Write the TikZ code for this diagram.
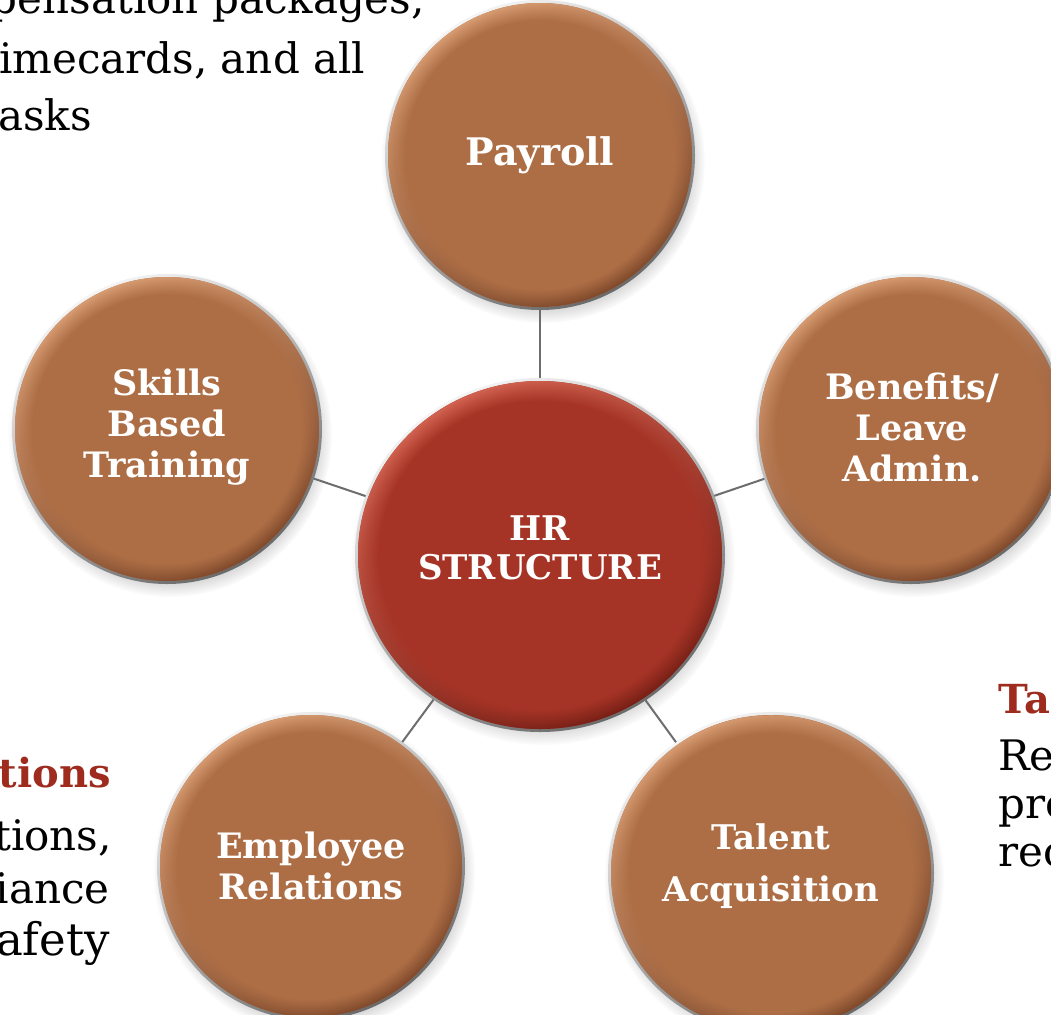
\documentclass[tikz,border=0pt]{standalone}
\usepackage{fontspec}
\setmainfont{DejaVu Serif}
\usetikzlibrary{shapes.geometric,fadings}

% palette
\definecolor{clay}{HTML}{AD6E45}
\definecolor{clayhi}{HTML}{D99D73}
\definecolor{claylo}{HTML}{7C4629}
\definecolor{rust}{HTML}{A63426}
\definecolor{rusthi}{HTML}{D46452}
\definecolor{rustlo}{HTML}{741D14}
\definecolor{ringhi}{HTML}{F4F4F4}
\definecolor{ringlo}{HTML}{6A6A6A}
\definecolor{linkgrey}{HTML}{6D6D6D}
\definecolor{headred}{HTML}{9E2B1E}

% soft drop shadow: opaque core, fading out at the rim
\pgfdeclareradialshading{shadowshade}{\pgfpointorigin}{%
  color(0bp)=(white); color(19bp)=(white); color(25bp)=(black); color(50bp)=(black)}
\pgfdeclarefading{shadowfade}{\pgfuseshading{shadowshade}}
% bevel band: only the outer rim of a disc is visible
\pgfdeclareradialshading{rimshade}{\pgfpointorigin}{%
  color(0bp)=(black); color(22bp)=(black); color(25bp)=(white); color(50bp)=(white)}
\pgfdeclarefading{rimfade}{\pgfuseshading{rimshade}}

% shadow, silver ring, fill and bevel for the disc of a named node
\newcommand{\hrdisc}[4]{%
  \fill[black, opacity=0.4, path fading=shadowfade]
    ([shift={(3,6)}]#1.center) ellipse ({#2pt+10pt} and {#3pt+10pt});
  \shade[top color=ringhi, bottom color=ringlo, shading angle=30]
    (#1.center) ellipse ({#2pt+3pt} and {#3pt+3pt});
  \fill[#4] (#1.center) ellipse (#2pt and #3pt);
  \shade[path fading=rimfade, top color=#4hi, middle color=#4, bottom color=#4lo, shading angle=30]
    (#1.center) ellipse (#2pt and #3pt);
}

\tikzset{
  disc/.style={ellipse, draw=none, inner sep=0pt, outer sep=3pt},
  link/.style={draw=linkgrey, line width=2pt},
  disctext/.style={text=white, align=center, inner sep=0pt,
    font=\bfseries\fontsize{35}{41}\selectfont},
  bodytext/.style={text=black, inner sep=0pt, font=\fontsize{42}{50}\selectfont},
  headtext/.style={text=headred, inner sep=0pt, font=\bfseries\fontsize{40}{48}\selectfont},
}

\begin{document}
\begin{tikzpicture}[x=1pt, y=-1pt]
\useasboundingbox (0,0) rectangle (1051,1014);
\fill[white] (0,0) rectangle (1051,1014);

% disc outlines (named, used by the connectors)
\node[disc, minimum width=364pt, minimum height=348pt] (hr) at (540,555) {};
\node[disc, minimum width=304pt, minimum height=304pt] (payroll) at (540,155) {};
\node[disc, minimum width=304pt, minimum height=304pt] (skills) at (167,429) {};
\node[disc, minimum width=304pt, minimum height=304pt] (benefits) at (911,429) {};
\node[disc, minimum width=302pt, minimum height=302pt] (employee) at (311,866) {};
\node[disc, minimum width=320pt, minimum height=316pt] (talent) at (771,873) {};

% disc bodies
\hrdisc{payroll}{152}{152}{clay}
\hrdisc{skills}{152}{152}{clay}
\hrdisc{benefits}{152}{152}{clay}
\hrdisc{employee}{151}{151}{clay}
\hrdisc{talent}{160}{158}{clay}
\hrdisc{hr}{182}{174}{rust}

% spokes
\draw[link] (hr) -- (payroll);
\draw[link] (hr) -- (skills);
\draw[link] (hr) -- (benefits);
\draw[link] (hr) -- (employee);
\draw[link] (hr) -- (talent);

% disc labels
\node[disctext, font=\bfseries\fontsize{38}{44}\selectfont] (payroll-t) at (540,155) {Payroll};
\node[disctext] (skills-t) at (167,427) {Skills\\Based\\Training};
\node[disctext] (benefits-t) at (912,427) {Benefits/\\Leave\\Admin.};
\node[disctext, font=\bfseries\fontsize{34}{39}\selectfont] (hr-t) at (540,548) {HR\\STRUCTURE};
\node[disctext] (employee-t) at (311,866) {Employee\\Relations};
\node[disctext, font=\bfseries\fontsize{34}{39}\selectfont] (talent-t) at (771,866) {Talent\\[13pt]Acquisition};

% side notes running off the page edges
\node[bodytext, anchor=base east] (pay-n1) at (425,14) {pensation packages,};
\node[bodytext, anchor=base west] (pay-n2) at (-18,74) {timecards, and all};
\node[bodytext, anchor=base west] (pay-n3) at (-19,130) {tasks};

\node[headtext, anchor=base east] (er-h) at (111,787) {ations};
\node[bodytext, anchor=base east] (er-n1) at (112,850) {ations,};
\node[bodytext, anchor=base east] (er-n2) at (110,903) {liance};
\node[bodytext, anchor=base east, font=\fontsize{45}{50}\selectfont] (er-n3) at (110,955) {safety};

\node[headtext, anchor=base west] (ta-h) at (998,713) {Talent};
\node[bodytext, anchor=base west] (ta-n1) at (998,770) {Rec};
\node[bodytext, anchor=base west] (ta-n2) at (998,818) {pre};
\node[bodytext, anchor=base west] (ta-n3) at (998,866) {rec};
\end{tikzpicture}
\end{document}
